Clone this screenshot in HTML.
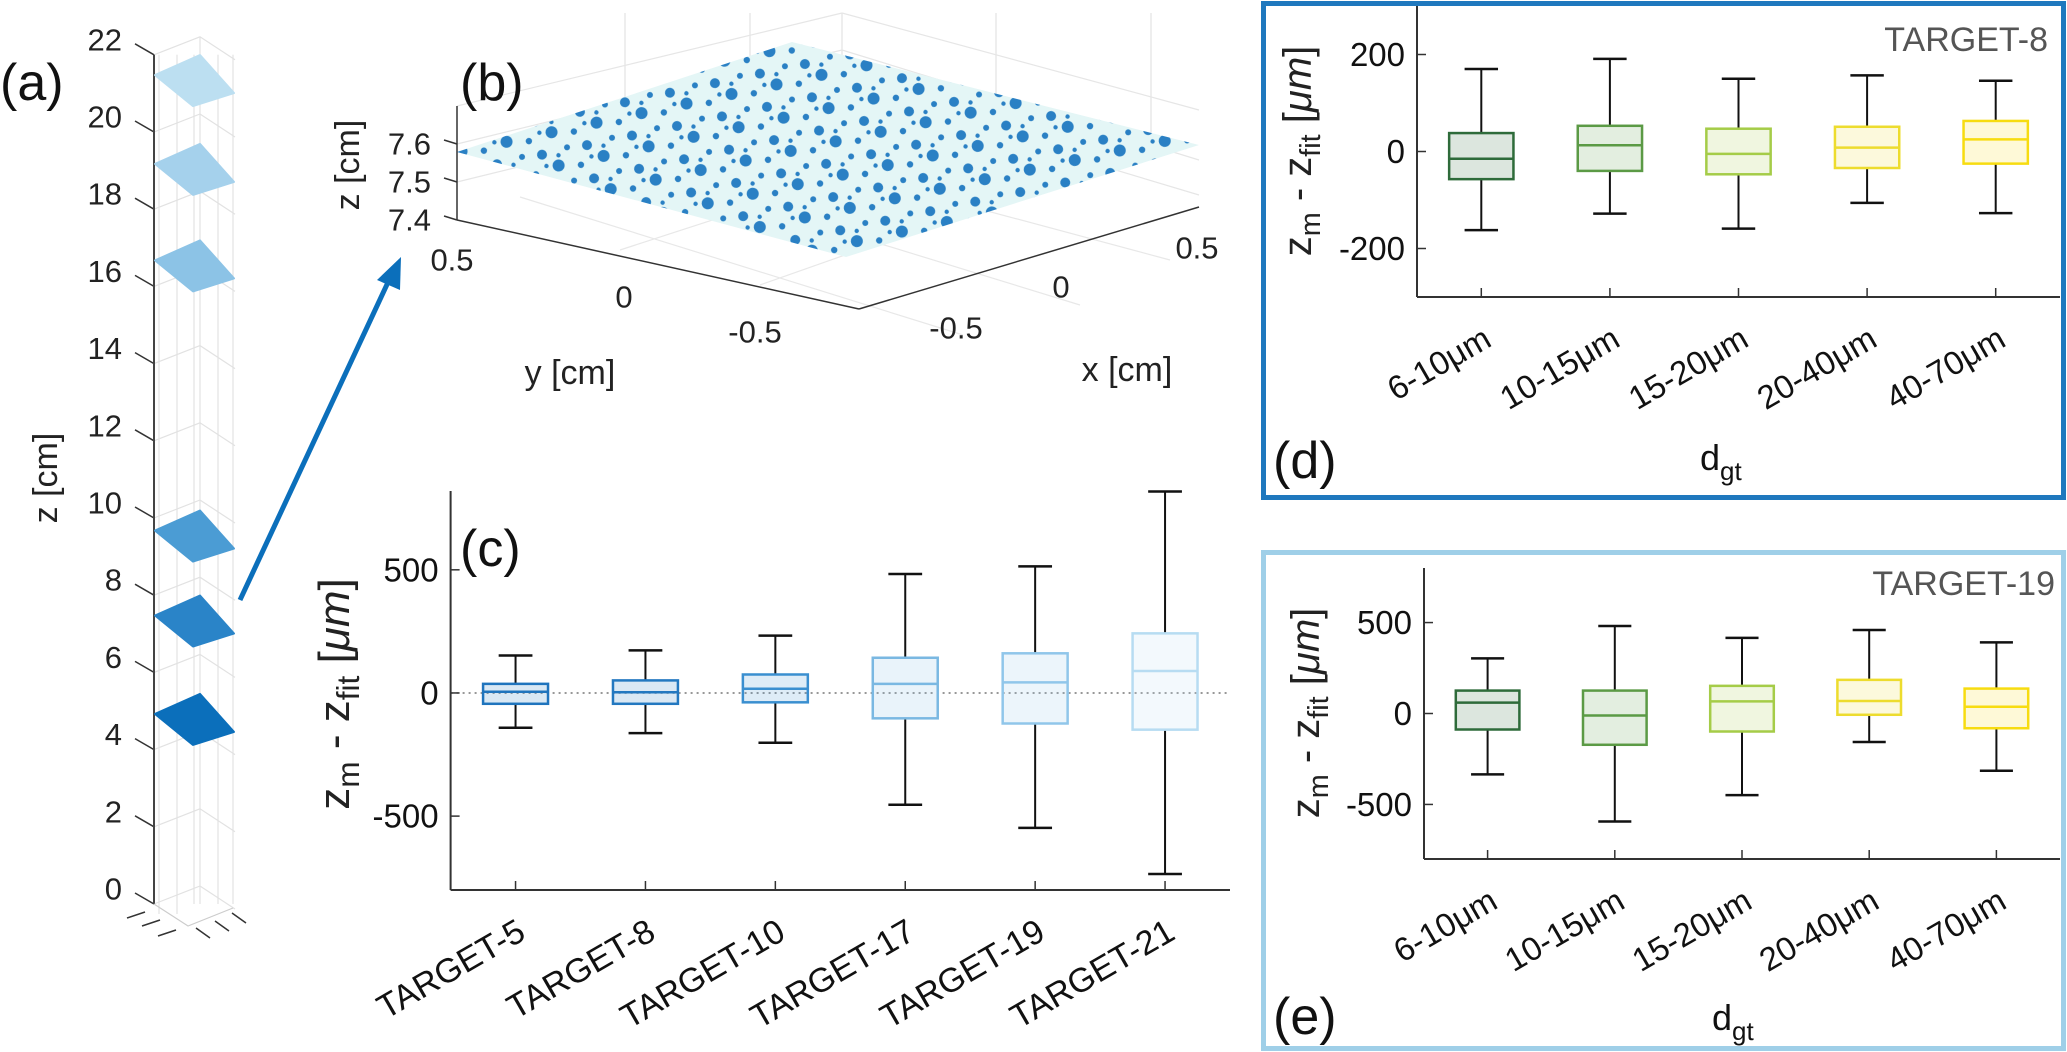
<!DOCTYPE html>
<html><head><meta charset="utf-8"><style>
html,body{margin:0;padding:0;background:#fff;}
svg{display:block;font-family:"Liberation Sans",Arial,sans-serif;}
</style></head><body>
<svg id="fig" width="2067" height="1052" viewBox="0 0 2067 1052" xmlns="http://www.w3.org/2000/svg">
<defs>
<pattern id="dots" patternUnits="userSpaceOnUse" width="46" height="34" patternTransform="rotate(-12)">
<circle cx="6" cy="6" r="6" fill="#2a80c4"/>
<circle cx="28" cy="10" r="3.2" fill="#2a80c4"/>
<circle cx="18" cy="24" r="3" fill="#2a80c4"/>
<circle cx="38" cy="26" r="5" fill="#2a80c4"/>
<circle cx="40" cy="4" r="2.2" fill="#2a80c4"/>
<circle cx="8" cy="30" r="2.2" fill="#2a80c4"/>
</pattern>
</defs>
<g id="pa"></g>
<g id="pb"></g>
<g id="pc"></g>
<g id="pd"></g>
<g id="pe"></g>
</svg>
<script>
// ---- Panel (a) data ----
const aTicks = [0,2,4,6,8,10,12,14,16,18,20,22];
const aPlaneZ = [21.5, 19.2, 16.7, 9.7, 7.5, 4.95];
const aPlaneColors = ['#bcdff1','#a5d1ec','#8cc3e6','#4b9cd4','#2a84c8','#0b6fbb'];
// ---- Panel (b) data ----
const bZTicks = [7.4, 7.5, 7.6];
const bYTicks = ['0.5','0','-0.5'];
const bXTicks = ['-0.5','0','0.5'];
// ---- Panel (c) data ----
const cCats = ['TARGET-5','TARGET-8','TARGET-10','TARGET-17','TARGET-19','TARGET-21'];
const cHigh = [152,173,233,483,514,818];
const cQ3 = [37,51,75,143,161,242];
const cMed = [5,3,17,37,43,89];
const cQ1 = [-44,-44,-38,-103,-124,-149];
const cLow = [-141,-163,-202,-454,-548,-735];
const cTicks = [-500,0,500];
const cColors = ['#1f74bd','#2378c0','#3a8fd0','#7ab8e2','#90c6ea','#b7dcf2'];
// ---- Panel (d) data ----
const dCats = ['6-10\u03bcm','10-15\u03bcm','15-20\u03bcm','20-40\u03bcm','40-70\u03bcm'];
const dHigh = [170,191,150,157,146];
const dQ3 = [38,53,47,51,63];
const dMed = [-15,13,-5,8,25];
const dQ1 = [-57,-40,-47,-34,-25];
const dLow = [-162,-128,-159,-106,-127];
const dTicks = [-200,0,200];
// ---- Panel (e) data ----
const eCats = ['6-10\u03bcm','10-15\u03bcm','15-20\u03bcm','20-40\u03bcm','40-70\u03bcm'];
const eHigh = [303,481,416,459,391];
const eQ3 = [126,126,152,185,137];
const eMed = [60,-11,67,69,37];
const eQ1 = [-88,-172,-99,-7,-81];
const eLow = [-335,-594,-449,-157,-315];
const eTicks = [-500,0,500];
const sizeColors = ['#2e6b3a','#5b9a45','#a5cc48','#eddc2e','#f7dc10'];

const NS='http://www.w3.org/2000/svg';
function mk(parent, tag, attrs, text){
  const e=document.createElementNS(NS,tag);
  for(const k in attrs) e.setAttribute(k,attrs[k]);
  if(text!==undefined) e.textContent=text;
  parent.appendChild(e); return e;
}
function zlabel(g, cx, cy, fs){
  const t=mk(g,'text',{x:cx,y:cy,'font-size':fs,'text-anchor':'middle','dominant-baseline':'central',transform:`rotate(-90 ${cx} ${cy})`,fill:'#222'});
  
  
  const parts=[['z',0],['m',1],[' - z',0],['fit',1],[' [',0],['\u03bcm',2],[']',0]];
  let prevSub=false;
  parts.forEach(p=>{
    const s=mk(t,'tspan',{},p[0]);
    if(p[1]===1){s.setAttribute('font-size',fs*0.72);s.setAttribute('dy',fs*0.32);prevSub=true;}
    else{
      if(p[1]===2) s.setAttribute('font-style','italic');
      if(prevSub){s.setAttribute('dy',-fs*0.32);prevSub=false;}
    }
  });
}

// ================= Panel (a) =================
(function(){
  const g=document.getElementById('pa');
  const ax=154, y0=904, k=38.6;
  const Y=z=>y0-z*k;
  [159,177,194,200,218,233].forEach(x=>{
    const l=mk(g,'line',{x1:x,y1:Y(22)-(x===200?18:0),x2:x,y2:Y(0)+(x>=188?0:10),stroke:'#e2e2e2','stroke-width':1.2});
    
    
  });
  aTicks.forEach(v=>{
    const y=Y(v);
    const p=mk(g,'polyline',{points:`${ax},${y} 200,${y-18} 235,${y+5}`,fill:'none',stroke:'#e2e2e2','stroke-width':1.2});
    
    
    const t=mk(g,'line',{x1:135,y1:y-11,x2:ax,y2:y,stroke:'#333','stroke-width':1.5});
    
    
    const lb=mk(g,'text',{x:122,y:y-15,'font-size':31,'text-anchor':'end','dominant-baseline':'central',fill:'#222'},String(v));
    
    
  });
  const axl=mk(g,'line',{x1:ax,y1:Y(22),x2:ax,y2:Y(0),stroke:'#444','stroke-width':2});
  
  
  const base=mk(g,'path',{d:`M${ax},${Y(0)} L188,926 L233,908`,fill:'none',stroke:'#ccc','stroke-width':1.2});
  
  
  [[145,912],[160,920],[176,930]].forEach(p=>{
    const l=mk(g,'line',{x1:p[0],y1:p[1],x2:p[0]-18,y2:p[1]+6,stroke:'#333','stroke-width':1.5});
    
    
  });
  [[196,928],[215,921],[232,913]].forEach(p=>{
    const l=mk(g,'line',{x1:p[0],y1:p[1],x2:p[0]+14,y2:p[1]+10,stroke:'#333','stroke-width':1.5});
    
    
  });
  aPlaneZ.forEach((z,i)=>{
    const c=Y(z)+2;
    const d=mk(g,'polygon',{points:`155,${c-1} 200,${c-21} 234,${c+17} 193,${c+30}`,fill:aPlaneColors[i],stroke:aPlaneColors[i],'stroke-width':2,'stroke-linejoin':'round'});
    
    
  });
  const lab=mk(g,'text',{x:0,y:100,'font-size':52,fill:'#111'},'(a)');
  
  
  const zt=mk(g,'text',{x:46,y:478,'font-size':34,'text-anchor':'middle','dominant-baseline':'central',transform:'rotate(-90 46 478)',fill:'#222'},'z [cm]');
  
  
  const ar=mk(g,'line',{x1:240,y1:600,x2:390,y2:278,stroke:'#0b6fbb','stroke-width':5});
  
  
  const ah=mk(g,'polygon',{points:'401,257 377,280 400,290',fill:'#0b6fbb'});
  
  
})();

// ================= Panel (b) =================
(function(){
  const g=document.getElementById('pb');
  [625,750,842,996,1151].forEach(x=>{
    const l=mk(g,'line',{x1:x,y1:13,x2:x,y2:x<842?110+(x-625)*0.1:145,stroke:'#e3e3e3','stroke-width':1.2});
    
    
  });
  [[457,106,842,13],[842,13,1199,110],[457,144,842,50],[842,50,1199,160],[457,182,842,88],[842,88,1199,195]].forEach(s=>{
    const l=mk(g,'line',{x1:s[0],y1:s[1],x2:s[2],y2:s[3],stroke:'#e6e6e6','stroke-width':1.2});
    
    
  });
  [[520,197,963,335],[640,170,1080,305],[760,150,1170,260],[620,250,990,130],[760,285,1100,165]].forEach(s=>{
    const l=mk(g,'line',{x1:s[0],y1:s[1],x2:s[2],y2:s[3],stroke:'#e8e8e8','stroke-width':1.2});
    
    
  });
  const plane='457,152 792,42 1199,145 846,257';
  const p1=mk(g,'polygon',{points:plane,fill:'#e4f6f6'});
  
  
  const p2=mk(g,'polygon',{points:plane,fill:'url(#dots)'});
  
  
  const zl=mk(g,'line',{x1:457,y1:106,x2:457,y2:220,stroke:'#333','stroke-width':1.5});
  
  
  const yl=mk(g,'line',{x1:457,y1:220,x2:859,y2:309,stroke:'#333','stroke-width':1.5});
  
  
  const xl=mk(g,'line',{x1:859,y1:309,x2:1199,y2:207,stroke:'#333','stroke-width':1.5});
  
  
  bZTicks.forEach(v=>{
    const y=220-(v-7.4)*380;
    const t=mk(g,'line',{x1:444,y1:y-4,x2:457,y2:y,stroke:'#333','stroke-width':1.5});
    
    
    const lb=mk(g,'text',{x:431,y:y,'font-size':31,'text-anchor':'end','dominant-baseline':'central',fill:'#222'},v.toFixed(1));
    
    
  });
  const yPos=[[452,260],[624,297],[755,332]];
  bYTicks.forEach((s,i)=>{
    const lb=mk(g,'text',{x:yPos[i][0],y:yPos[i][1],'font-size':31,'text-anchor':'middle','dominant-baseline':'central',fill:'#222'},s);
    
    
  });
  const xPos=[[956,328],[1061,287],[1197,248]];
  bXTicks.forEach((s,i)=>{
    const lb=mk(g,'text',{x:xPos[i][0],y:xPos[i][1],'font-size':31,'text-anchor':'middle','dominant-baseline':'central',fill:'#222'},s);
    
    
  });
  const yt=mk(g,'text',{x:570,y:373,'font-size':34,'text-anchor':'middle','dominant-baseline':'central',fill:'#222'},'y [cm]');
  
  
  const xt=mk(g,'text',{x:1127,y:370,'font-size':34,'text-anchor':'middle','dominant-baseline':'central',fill:'#222'},'x [cm]');
  
  
  const zt=mk(g,'text',{x:348,y:165,'font-size':34,'text-anchor':'middle','dominant-baseline':'central',transform:'rotate(-90 348 165)',fill:'#222'},'z [cm]');
  
  
  const lab=mk(g,'text',{x:460,y:100,'font-size':52,fill:'#111'},'(b)');
  
  
})();

// ================= Box plot helper =================
function boxAxes(g, cfg, cats, lo, q1, md, q3, hi, ticks, colors){
  const n=cats.length, sp=(cfg.x1-cfg.x0)/n;
  const X=i=>cfg.x0+sp*(i+0.5);
  const Y=v=>cfg.yb-(v-cfg.ymin)/(cfg.ymax-cfg.ymin)*(cfg.yb-cfg.yt);
  if(cfg.zeroLine){
    const zl=mk(g,'line',{x1:cfg.x0,y1:Y(0),x2:cfg.x1,y2:Y(0),stroke:'#777','stroke-width':1.5,'stroke-dasharray':'2 4'});
    
    
  }
  const hw=sp*0.25, cw=sp*0.13;
  for(let i=0;i<n;i++){
    const x=X(i), c=colors[i];
    const bg=mk(g,'g',{});
    
    
    const w1=mk(bg,'line',{x1:x,y1:Y(hi[i]),x2:x,y2:Y(q3[i]),stroke:'#111','stroke-width':2});
    
    
    const w2=mk(bg,'line',{x1:x,y1:Y(q1[i]),x2:x,y2:Y(lo[i]),stroke:'#111','stroke-width':2});
    
    
    const c1=mk(bg,'line',{x1:x-cw,y1:Y(hi[i]),x2:x+cw,y2:Y(hi[i]),stroke:'#111','stroke-width':2.5});
    
    
    const c2=mk(bg,'line',{x1:x-cw,y1:Y(lo[i]),x2:x+cw,y2:Y(lo[i]),stroke:'#111','stroke-width':2.5});
    
    
    const r=mk(bg,'rect',{x:x-hw,y:Y(q3[i]),width:2*hw,height:Y(q1[i])-Y(q3[i]),fill:c,'fill-opacity':0.17,stroke:c,'stroke-width':2.5});
    
    
    const m=mk(bg,'line',{x1:x-hw,y1:Y(md[i]),x2:x+hw,y2:Y(md[i]),stroke:c,'stroke-width':2.5});
    
    
    const tk=mk(g,'line',{x1:x,y1:cfg.yb,x2:x,y2:cfg.yb-9,stroke:'#333','stroke-width':1.5});
    
    
    const lb=mk(g,'text',{x:0,y:0,'font-size':cfg.xfs,'text-anchor':'end',fill:'#111',transform:`translate(${x+12} ${cfg.yb+48}) rotate(-30)`},cats[i]);
    
    
  }
  ticks.forEach(v=>{
    const tk=mk(g,'line',{x1:cfg.x0,y1:Y(v),x2:cfg.x0+9,y2:Y(v),stroke:'#333','stroke-width':1.5});
    
    
    const lb=mk(g,'text',{x:cfg.x0-12,y:Y(v),'font-size':33,'text-anchor':'end','dominant-baseline':'central',fill:'#111'},String(v));
    
    
  });
  const a1=mk(g,'line',{x1:cfg.x0,y1:cfg.yt,x2:cfg.x0,y2:cfg.yb,stroke:'#333','stroke-width':2});
  
  
  const a2=mk(g,'line',{x1:cfg.x0,y1:cfg.yb,x2:cfg.x1,y2:cfg.yb,stroke:'#333','stroke-width':2});
  
  
}

// ================= Panel (c) =================
(function(){
  const g=document.getElementById('pc');
  boxAxes(g,{x0:450.6,x1:1230,yt:491,yb:890,ymin:-800,ymax:820,zeroLine:true,xfs:34},cCats,cLow,cQ1,cMed,cQ3,cHigh,cTicks,cColors);
  zlabel(g,334,694,44);
  const lab=mk(g,'text',{x:460,y:566,'font-size':52,fill:'#111'},'(c)');
  
  
})();

// ================= Panel (d) =================
(function(){
  const g=document.getElementById('pd');
  const b=mk(g,'rect',{x:1263.5,y:3.5,width:800,height:494,fill:'none',stroke:'#1f78be','stroke-width':5});
  
  
  boxAxes(g,{x0:1417,x1:2060,yt:6,yb:297,ymin:-300,ymax:300,zeroLine:false,xfs:33},dCats,dLow,dQ1,dMed,dQ3,dHigh,dTicks,sizeColors);
  zlabel(g,1298,151,40);
  const tt=mk(g,'text',{x:2048,y:40,'font-size':34,'text-anchor':'end','dominant-baseline':'central',fill:'#555'},'TARGET-8');
  
  
  const xt=mk(g,'text',{x:1700,y:470,'font-size':36,fill:'#111'});
  
  
  mk(xt,'tspan',{},'d'); mk(xt,'tspan',{'font-size':26,dy:10},'gt');
  const lab=mk(g,'text',{x:1273,y:478,'font-size':52,fill:'#111'},'(d)');
  
  
})();

// ================= Panel (e) =================
(function(){
  const g=document.getElementById('pe');
  const b=mk(g,'rect',{x:1263.5,y:552.5,width:800,height:496,fill:'none',stroke:'#9fcfe8','stroke-width':5});
  
  
  boxAxes(g,{x0:1424,x1:2060,yt:568,yb:859,ymin:-800,ymax:800,zeroLine:false,xfs:33},eCats,eLow,eQ1,eMed,eQ3,eHigh,eTicks,sizeColors);
  zlabel(g,1306,713,40);
  const tt=mk(g,'text',{x:2055,y:584,'font-size':34,'text-anchor':'end','dominant-baseline':'central',fill:'#555'},'TARGET-19');
  
  
  const xt=mk(g,'text',{x:1712,y:1030,'font-size':36,fill:'#111'});
  
  
  mk(xt,'tspan',{},'d'); mk(xt,'tspan',{'font-size':26,dy:10},'gt');
  const lab=mk(g,'text',{x:1273,y:1034,'font-size':52,fill:'#111'},'(e)');
  
  
})();
</script>
</body></html>
